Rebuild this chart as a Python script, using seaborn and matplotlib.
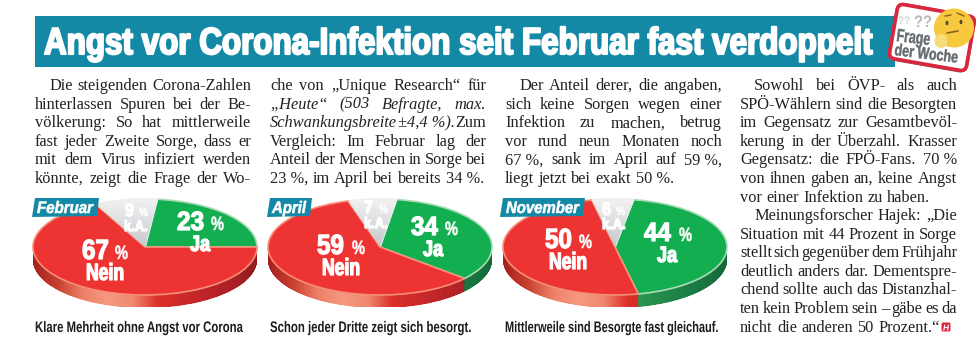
from matplotlib import pyplot as plt
from matplotlib.patches import Ellipse, FancyBboxPatch, Rectangle, Polygon
from matplotlib.path import Path
from matplotlib.transforms import Affine2D, IdentityTransform
import matplotlib.patheffects as pe
import seaborn as sns
import numpy as np

sns.set_theme(style='white')

W, H = 980, 356
SANS = 'Liberation Sans'
SERIF = 'Liberation Serif'

months = ['Februar', 'April', 'November']
ja = [23, 34, 44]
ka = [9, 7, 6]
nein = [67, 59, 50]
captions = ['Klare Mehrheit ohne Angst vor Corona',
            'Schon jeder Dritte zeigt sich besorgt.',
            'Mittlerweile sind Besorgte fast gleichauf.']
title = 'Angst vor Corona-Infektion seit Februar fast verdoppelt'

# a * in front of a word sets it in italics, \u00a0 keeps number and % together
col1 = ['Die steigenden Corona-Zahlen', 'hinterlassen Spuren bei der Be-',
        'völkerung: So hat mittlerweile', 'fast jeder Zweite Sorge, dass er',
        'mit dem Virus infiziert werden', 'könnte, zeigt die Frage der Wo-']
col2 = ['che von „Unique Research“ für', '*„Heute“ *(503 *Befragte, *max.',
        '*Schwankungsbreite *±4,4\u00a0%). Zum', 'Vergleich: Im Februar lag der',
        'Anteil der Menschen in Sorge bei', '23\u00a0%, im April bei bereits 34\u00a0%.']
col3 = ['Der Anteil derer, die angaben,', 'sich keine Sorgen wegen einer',
        'Infektion zu machen, betrug', 'vor rund neun Monaten noch',
        '67\u00a0%, sank im April auf 59\u00a0%,', 'liegt jetzt bei exakt 50\u00a0%.']
col4a = ['Sowohl bei ÖVP- als auch', 'SPÖ-Wählern sind die Besorgten',
         'im Gegensatz zur Gesamtbevöl-', 'kerung in der Überzahl. Krasser',
         'Gegensatz: die FPÖ-Fans. 70\u00a0%', 'von ihnen gaben an, keine Angst',
         'vor einer Infektion zu haben.']
col4b = ['Meinungsforscher Hajek: „Die', 'Situation mit 44 Prozent in Sorge',
         'stellt sich gegenüber dem Frühjahr', 'deutlich anders dar. Dementspre-',
         'chend sollte auch das Distanzhal-', 'ten kein Problem sein – gäbe es da',
         'nicht die anderen 50 Prozent.“']

RED = '#ee3333'
GREEN = '#13ae4f'
TEAL = '#1489a6'
red_rim = sns.blend_palette(['#a8201f', '#c84030', '#ee8068', '#f49a80', '#f08a70', '#dc3028',
                             '#cc2a2a', '#bd2528', '#aa2024', '#931b1f'], as_cmap=True)
green_rim = sns.blend_palette(['#46ad6a', '#46ad6a', '#46ad6a', '#3aa560', '#2c9a55', '#238a4c',
                               '#1c7a43', '#15693a'], as_cmap=True)
grey_top = sns.blend_palette(['#f1f1f2', '#dcdde0', '#c6c8cd'], as_cmap=True)

fig = plt.figure(figsize=(W / 100, H / 100), dpi=100)
bg = fig.add_axes([0, 0, 1, 1])
bg.set_xlim(0, W)
bg.set_ylim(H, 0)
bg.axis('off')
rend = fig.canvas.get_renderer()


class Tall(pe.AbstractPathEffect):
    # stretches a text upward from its baseline, none of the installed fonts is condensed
    def __init__(self, sy, lw=0, angle=0):
        super().__init__()
        self.sy, self.lw, self.angle = sy, lw, angle

    def draw_path(self, renderer, gc, tpath, affine, rgbFace=None):
        m = affine.get_matrix()
        tx, ty = m[0, 2], m[1, 2]
        stretch = (Affine2D().translate(-tx, -ty).rotate_deg(-self.angle).scale(1, self.sy)
                   .rotate_deg(self.angle).translate(tx, ty))
        gc0 = renderer.new_gc()
        gc0.copy_properties(gc)
        if self.lw:
            gc0.set_linewidth(self.lw)
            gc0.set_foreground(rgbFace)
        renderer.draw_path(gc0, tpath, affine + stretch, rgbFace)
        gc0.restore()


def fit(ax, x0, x1, base, s, h, color='white', lw=0.9, angle=0, style='normal', zorder=10):
    # narrow heavy type: size set from the width, height made up by the stretch
    t = ax.text(x0, base, s, family=SANS, weight='bold', style=style, size=10, color=color,
                ha='left', va='baseline', rotation_mode='anchor', zorder=zorder)
    size = 10 * (x1 - x0) / t.get_window_extent(rend).width
    t.set_size(size)
    t.set_rotation(angle)
    t.set_path_effects([Tall(h / (0.72 * size * 100 / 72), lw, angle)])
    return t


def text_line(x0, x1, y, line, justify=True, indent=0):
    # set one line word by word so both edges sit on the column
    items = []
    for w in line.split(' '):
        style = 'italic' if w[0] == '*' else 'normal'
        t = bg.text(0, y, w.lstrip('*'), family=SERIF, style=style, size=11.8,
                    color='#222222', va='baseline', ha='left')
        items.append((t, t.get_window_extent(rend).width))
    total = sum(w for _, w in items)
    left = x0 + indent
    gap = (x1 - left - total) / max(len(items) - 1, 1) if justify else 4.4
    for t, w in items:
        t.set_x(left)
        left += w + gap


def column(lines, x0, x1, y0, step=18.6, indent=14, last=False):
    for i, line in enumerate(lines):
        text_line(x0, x1, y0 + i * step, line, justify=last or i < len(lines) - 1,
                  indent=indent if i == 0 else 0)


column(col1, 35, 251, 90, last=True)
column(col2, 270, 486, 90, indent=0)
column(col3, 505, 722, 90)
column(col4a, 740, 957, 90)
column(col4b, 740, 957, 220)

# title bar
bg.add_patch(Rectangle((35, 16), 860, 51, color=TEAL, lw=0))
fit(bg, 44, 873, 54, title, 27, lw=1.5)


def draw_pie(i, cx):
    vals = [ja[i], ka[i], nein[i]]
    start = [0, -41, -78][i]
    rx, ry, depth = 112, 48, 13
    ax = fig.add_axes([(cx - rx * 1.25) / W, 1 - (247 + ry * 1.25) / H, rx * 2.5 / W, ry * 2.5 / H])
    ax.set_facecolor('none')

    def layer(center, **kw):
        wedges, _ = ax.pie(vals, startangle=start, center=center, normalize=True, **kw)
        ax.set_xlim(-1.25, 1.25)
        ax.set_ylim(-1.25, 1.25)
        ax.set_aspect('auto')
        return wedges

    # side wall: shifted copies of each slice joined into one clip for a left-right shade
    walls = [[], [], []]
    for d in np.arange(depth, 0, -0.5):
        wedges = layer((0, -d / ry), colors=['none'] * 3, wedgeprops=dict(linewidth=0))
        for n, w in enumerate(wedges):
            walls[n].append(w.get_path().transformed(w.get_transform()))
            w.remove()
    grad = np.linspace(0, 1, 256).reshape(1, -1)
    for n, cmap in [(0, green_rim), (2, red_rim)]:
        im = ax.imshow(grad, cmap=cmap, extent=(-1, 1, -1.25, 1.25), aspect='auto', zorder=1)
        im.set_clip_path(Path.make_compound_path(*walls[n]), IdentityTransform())

    wedges = layer((0, 0), colors=[GREEN, '#d5d7da', RED], wedgeprops=dict(linewidth=1.2, zorder=3))
    for wedge, edge in zip(wedges, ['#a9dcb5', '#eeeeee', '#f58f78']):
        wedge.set_edgecolor(edge)
    shade = ax.imshow(np.linspace(0, 1, 64).reshape(-1, 1), cmap=grey_top, extent=(-1, 1, 0, 1), aspect='auto', zorder=3.5)
    shade.set_clip_path(wedges[1])
    ax.set_xlim(-1.25, 1.25)
    ax.set_ylim(-1.25, 1.25)
    ax.axis('off')


pie_cx = [145, 380, 615]
for i, cx in enumerate(pie_cx):
    draw_pie(i, cx)

# everything drawn on the pies goes on a top layer
top = fig.add_axes([0, 0, 1, 1], facecolor='none')
top.set_xlim(0, W)
top.set_ylim(H, 0)
top.axis('off')

tag_box = [(32, 99), (267, 312), (500, 585)]
tag_txt = [(37, 93), (272, 306), (506, 579)]
# x of number, % and word, then baselines of number and word
nein_pos = [(82, 115, 86, 259, 280), (317, 352, 322, 254, 275), (545, 579, 549, 248, 269)]
ja_pos = [(177, 211, 190, 230, 251), (411, 445, 423, 235, 256), (644, 679, 657, 241, 262)]
ka_pos = [(125, 139, 124, 216, 231), (364, 379, 364, 213, 228), (602, 616, 602, 215, 229)]
cap_x = [(35, 243), (270, 472), (505, 719)]


def value_label(pos, pct, word, word_w, num_w=27, pct_w=13, h=20, pct_h=14, word_h=17):
    nx, px, wx, b0, b1 = pos
    fit(top, nx, nx + num_w, b0, str(pct), h)
    fit(top, px, px + pct_w, b0, '%', pct_h, lw=0.3)
    fit(top, wx, wx + word_w, b1, word, word_h)


for i in range(3):
    x0, x1 = tag_box[i]
    top.add_patch(Polygon([(x0 + 3, 198), (x1, 198), (x1 - 2, 216), (x0, 217)], color=TEAL, lw=0))
    fit(top, tag_txt[i][0], tag_txt[i][1], 213, months[i], 12, style='italic', lw=0.4)
    value_label(nein_pos[i], nein[i], 'Nein', 38)
    value_label(ja_pos[i], ja[i], 'Ja', 20, h=19, word_h=16)
    value_label(ka_pos[i], ka[i], 'k.A.', 24, num_w=9, pct_w=9, h=13, pct_h=9, word_h=11)
    fit(top, cap_x[i][0], cap_x[i][1], 332, captions[i], 11, color='#1c1c1c', lw=0)

# Frage der Woche badge
rot = Affine2D().rotate_deg_around(932, 37, 10) + top.transData
top.add_patch(FancyBboxPatch((893, 10), 78, 55, boxstyle='round,pad=0,rounding_size=6', fc='white', ec='#d8283f',
                             lw=2.6, transform=rot, zorder=5,
                             path_effects=[pe.withSimplePatchShadow(offset=(-1, -1.5), shadow_rgbFace='#777777', alpha=0.8),
                                           pe.Normal()]))
GR = '#666b70'
fit(top, 896, 930, 41, 'Frage', 13, color=GR, lw=0.3, angle=-7, zorder=6)
fit(top, 894, 958, 55, 'der Woche', 12, color=GR, lw=0.3, angle=-7, zorder=6)
fit(top, 898, 910, 24, '??', 8, color='#cfd1d4', lw=0, zorder=6)
fit(top, 914, 932, 27, '??', 12, color='#b5b8bc', lw=0, zorder=6)
top.add_patch(Ellipse((954, 28), 40, 39, fc='#f7c93e', ec='none', zorder=6))
top.add_patch(Ellipse((941, 41), 13, 14, fc='#f6dc7a', ec='none', zorder=7))
top.add_patch(Ellipse((947, 23), 3, 4.5, fc='#5b4a2a', ec='none', zorder=7))
top.add_patch(Ellipse((961, 22), 3, 4.5, fc='#5b4a2a', ec='none', zorder=7))
top.plot([945, 951], [16, 15], color='#8a6a24', lw=1.1, zorder=7)
top.plot([957, 964], [13, 16], color='#8a6a24', lw=1.1, zorder=7)
top.plot([947, 958], [33, 31], color='#8a6420', lw=1.2, zorder=7)

# end mark
top.add_patch(FancyBboxPatch((942, 323), 8, 8, boxstyle='round,pad=0.5,rounding_size=1.5', fc='#d9293f', ec='none'))
fit(top, 943, 949, 330.5, 'H', 6, style='italic', lw=0)

fig.savefig('out.png', dpi=100, facecolor='white')
